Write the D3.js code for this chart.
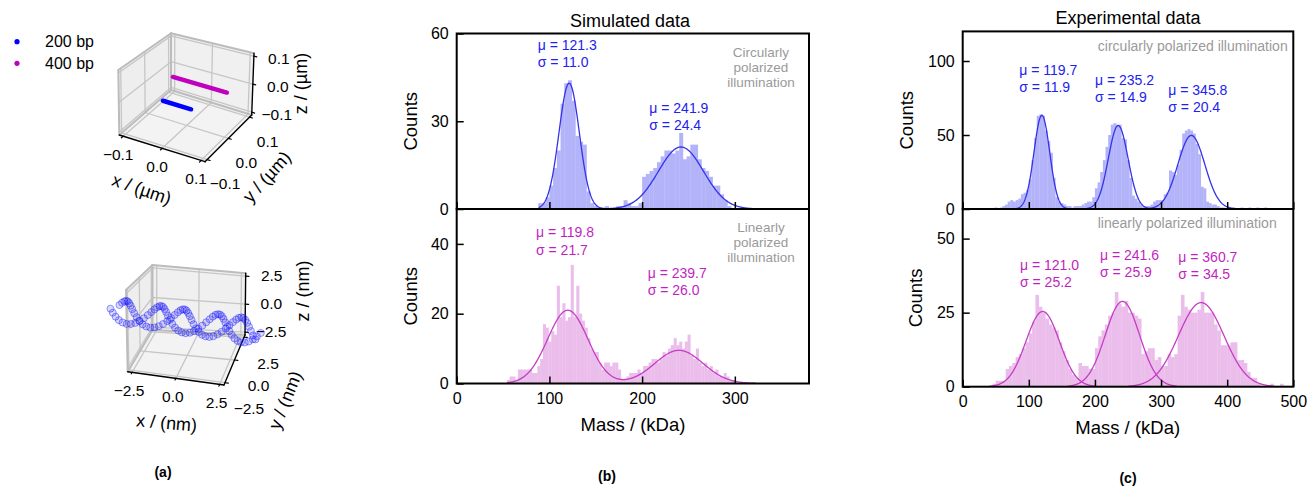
<!DOCTYPE html>
<html lang="en">
<head>
<meta charset="utf-8">
<title>DNA mass histograms</title>
<script src="https://cdn.jsdelivr.net/npm/d3@7"></script>
<style>
  body { margin: 0; background: #fff; }
  text { font-family: "Liberation Sans", Arial, sans-serif; }
</style>
</head>
<body>
<svg id="fig" width="1309" height="487"></svg>
<script>
// ---------- data: panel (a) ----------
const legendLabels = ["200 bp", "400 bp"];
const legendColors = ["#0000ff", "#bf00bf"];
// straight rods (µm), start / end
const rodX = [[-0.063, 0.011], [-0.037, 0.103]];
const rodY = [[0, 0], [0, 0]];
const rodZ = [[-0.048, -0.048], [0.048, 0.048]];
const umTicks = [-0.1, 0.0, 0.1];
// helix atoms (nm): two strands, main and half-step atoms
const helixX = [-4.2, -3.86, -3.52, -3.18, -2.84, -2.5, -2.16, -1.82, -1.48, -1.14, -0.8, -0.46, -0.12,
  0.22, 0.56, 0.9, 1.24, 1.58, 1.92, 2.26, 2.6, 2.94, 3.28, 3.62, 3.96];
const strand1Y = [1, .81, .31, -.31, -.81, -1, -.81, -.31, .31, .81, 1, .81, .31, -.31, -.81, -1, -.81, -.31, .31, .81, 1, .81, .31, -.31, -.81];
const strand1Z = [0, .41, .67, .67, .41, 0, -.41, -.67, -.67, -.41, 0, .41, .67, .67, .41, 0, -.41, -.67, -.67, -.41, 0, .41, .67, .67, .41];
const strand2Y = [-.81, -1, -.81, -.31, .31, .81, 1, .81, .31, -.31, -.81, -1, -.81, -.31, .31, .81, 1, .81, .31, -.31, -.81, -1, -.81, -.31, .31];
const strand2Z = [.41, 0, -.41, -.67, -.67, -.41, 0, .41, .67, .67, .41, 0, -.41, -.67, -.67, -.41, 0, .41, .67, .67, .41, 0, -.41, -.67, -.67];
const helixXh = [-4.03, -3.69, -3.35, -3.01, -2.67, -2.33, -1.99, -1.65, -1.31, -0.97, -0.63, -0.29, 0.05,
  0.39, 0.73, 1.07, 1.41, 1.75, 2.09, 2.43, 2.77, 3.11, 3.45, 3.79, 4.13];
const strand1hY = [.95, .59, 0, -.59, -.95, -.95, -.59, 0, .59, .95, .95, .59, 0, -.59, -.95, -.95, -.59, 0, .59, .95, .95, .59, 0, -.59, -.95];
const strand1hZ = [.22, .57, .7, .57, .22, -.22, -.57, -.7, -.57, -.22, .22, .57, .7, .57, .22, -.22, -.57, -.7, -.57, -.22, .22, .57, .7, .57, .22];
const strand2hY = [-.95, -.95, -.59, 0, .59, .95, .95, .59, 0, -.59, -.95, -.95, -.59, 0, .59, .95, .95, .59, 0, -.59, -.95, -.95, -.59, 0, .59];
const strand2hZ = [.22, -.22, -.57, -.7, -.57, -.22, .22, .57, .7, .57, .22, -.22, -.57, -.7, -.57, -.22, .22, .57, .7, .57, .22, -.22, -.57, -.7, -.57];
const nmTicks = [-2.5, 0.0, 2.5];

// ---------- data: panel (b) simulated ----------
const simUpperStart = 84, simUpperWidth = 4;
const simUpperCounts = [0,2,2,4,8,14,20,36,43,44, 37,25,23,22,6,2,1,0,0,1, 0,0,1,1,3,2,1,1,2,11,
  12,13,14,16,18,20,20,19,20,26, 17,18,22,22,17,14,13,11,8,8, 5,3,1,0];
const simUpperMu = [121.3, 241.9], simUpperSigma = [11.0, 24.4], simUpperAmp = [43, 21.2];

const simLowerStart = 54, simLowerWidth = 3;
const simLowerCounts = [1,2,2,1,4,4,4,4,4,3, 3,5,7,17,16,12,15,14,28,19, 23,18,19,34,19,28,20,18,16,13,
  10,9,9,6,4,6,6,5,6,6, 4,1,1,2,3,3,3,4,3,5, 5,6,7,7,6,7,9,8,10,11, 13,11,12,10,12,14,8,7,10,6,
  5,6,4,5,3,4,2,2,3,2, 1,1];
const simLowerMu = [119.8, 239.7], simLowerSigma = [21.7, 26.0], simLowerAmp = [21, 9.5];

// ---------- data: panel (c) experimental ----------
const expUpperStart = 40, expUpperWidth = 4;
const expUpperCounts = [0,0,1,0,1,2,3,5,6,5, 6,7,10,11,13,20,33,48,63,64, 63,53,46,38,21,8,5,4,3,2,
  2,1,2,2,2,3,4,5,5,8, 14,18,25,33,42,50,57,58,57,57, 48,47,33,21,9,7,5,3,2,2,
  2,3,5,6,6,6,10,11,26,25, 23,30,40,51,53,54,53,51,44,37, 15,14,5,4,3,3,2,1,1,0,
  1,0,1,0,0,1,0,0,1,0, 0,1,0,0,1];
const expUpperMu = [119.7, 235.2, 345.8], expUpperSigma = [11.9, 14.9, 20.4], expUpperAmp = [63.3, 56.4, 49.7];

const expLowerStart = 45, expLowerWidth = 5;
const expLowerCounts = [1,2,2,2,6,7,8,10,11,13, 15,18,22,31,27,25,23,21,20,19, 15,12,9,6,4,3,8,7,7,6,
  6,13,17,19,21,24,25,32,28,27, 29,25,25,24,23,11,12,13,13,9, 10,7,7,11,10,11,24,31,27,26,
  25,25,26,32,25,25,25,21,19,14, 14,14,15,15,9,9,8,5,3,3, 1,0,0,0,1,0,0,1];
const expLowerMu = [121.0, 241.6, 360.7], expLowerSigma = [25.2, 25.9, 34.5], expLowerAmp = [25.4, 28.8, 28.4];

// ---------- drawing ----------
const svg = d3.select("#fig");
const BLUE_TXT = "#2222ee", MAG_TXT = "#c21fc2";

// 3D box: trilinear map from data cube to the 8 screen corners
function makeProj(c, xd, yd, zd) {
  const u = d3.scaleLinear().domain(xd).range([0, 1]);
  const v = d3.scaleLinear().domain(yd).range([0, 1]);
  const w = d3.scaleLinear().domain(zd).range([0, 1]);
  const mix = (p, q, t) => [p[0] + (q[0] - p[0]) * t, p[1] + (q[1] - p[1]) * t];
  return (x, y, z) => {
    const a = u(x), b = v(y), t = w(z);
    const lo = mix(mix(c.A, c.B, a), mix(c.D, c.C, a), b);
    const hi = mix(mix(c.At, c.Bt, a), mix(c.Dt, c.Ct, a), b);
    return mix(lo, hi, t);
  };
}

function draw3d(P, dom, ticks, fmt, off, labels) {
  const g = svg.append("g");
  const [x0, x1] = dom.x, [y0, y1] = dom.y, [z0, z1] = dom.z;
  const poly = pts => "M" + pts.map(p => P(...p).join(",")).join("L") + "Z";
  const seg = (p, q, col, wdt) => {
    const a = P(...p), b = P(...q);
    g.append("line").attr("x1", a[0]).attr("y1", a[1]).attr("x2", b[0]).attr("y2", b[1])
      .attr("stroke", col).attr("stroke-width", wdt).attr("stroke-linecap", "round");
  };
  g.append("path").attr("d", poly([[x0,y0,z0],[x1,y0,z0],[x1,y1,z0],[x0,y1,z0]])).attr("fill", "#f3f3f3");
  g.append("path").attr("d", poly([[x0,y0,z0],[x0,y1,z0],[x0,y1,z1],[x0,y0,z1]])).attr("fill", "#eeeeee");
  g.append("path").attr("d", poly([[x0,y1,z0],[x1,y1,z0],[x1,y1,z1],[x0,y1,z1]])).attr("fill", "#f0f0f0");
  const gc = "#c6c6c6", gw = 1.3;
  ticks.x.forEach(t => { seg([t,y0,z0],[t,y1,z0],gc,gw); seg([t,y1,z0],[t,y1,z1],gc,gw); });
  ticks.y.forEach(t => { seg([x0,t,z0],[x1,t,z0],gc,gw); seg([x0,t,z0],[x0,t,z1],gc,gw); });
  ticks.z.forEach(t => { seg([x0,y0,t],[x0,y1,t],gc,gw); seg([x0,y1,t],[x1,y1,t],gc,gw); });
  const ec = "#bcbcbc", ew = 2;
  seg([x0,y0,z0],[x0,y0,z1],ec,ew); seg([x0,y0,z1],[x0,y1,z1],ec,ew);
  seg([x0,y1,z1],[x1,y1,z1],ec,ew); seg([x0,y1,z0],[x0,y1,z1],ec,ew);
  seg([x0,y0,z0],[x0,y1,z0],ec,ew); seg([x0,y1,z0],[x1,y1,z0],ec,ew);
  // black axes
  seg([x0,y0,z0],[x1,y0,z0],"#000",1.4);
  seg([x1,y0,z0],[x1,y1,z0],"#000",1.4);
  seg([x1,y1,z0],[x1,y1,z1],"#000",1.4);
  const dy = (y1 - y0) * 0.035, dx = (x1 - x0) * 0.035;
  ticks.x.forEach(t => seg([t,y0,z0],[t,y0 - dy,z0],"#000",1.2));
  ticks.y.forEach(t => seg([x1,t,z0],[x1 + dx,t,z0],"#000",1.2));
  ticks.z.forEach(t => seg([x1,y1,t],[x1 + dx,y1,t],"#000",1.2));
  const tl = (p, o, s) => {
    const q = P(...p);
    g.append("text").attr("x", q[0] + o[0]).attr("y", q[1] + o[1]).attr("text-anchor", "middle")
      .attr("dy", "0.35em").attr("font-size", 15.5).text(s);
  };
  ticks.x.forEach(t => tl([t,y0,z0], off.x, fmt(t)));
  ticks.y.forEach(t => tl([x1,t,z0], off.y, fmt(t)));
  ticks.z.forEach(t => tl([x1,y1,t], off.z, fmt(t)));
  labels.forEach(l => g.append("text").attr("text-anchor", "middle").attr("dy", "0.35em")
    .attr("font-size", 18).attr("transform", `translate(${l.at[0]},${l.at[1]}) rotate(${l.rot})`).text(l.text));
  return g;
}

const f1 = d3.format(".1f");

// --- top 3D box (µm)
const topBox = makeProj({A: [119.3, 135], B: [205, 161.7], C: [251.7, 115], D: [171, 90],
  At: [118.3, 70], Bt: [206, 98], Ct: [254, 53.3], Dt: [171, 33.3]}, [-0.11, 0.11], [-0.11, 0.11], [-0.11, 0.11]);
const gTop = draw3d(topBox, {x: [-0.11, 0.11], y: [-0.11, 0.11], z: [-0.11, 0.11]},
  {x: umTicks, y: umTicks, z: umTicks}, f1,
  {x: [-5, 18], y: [18, 24], z: [25, 2]},
  [{text: "x / (µm)", at: [141.7, 189], rot: 19},
   {text: "y / (µm)", at: [266.7, 176.7], rot: -48},
   {text: "z / (µm)", at: [301, 83.5], rot: -90}]);
rodX.forEach((xs, i) => {
  const a = topBox(xs[0], rodY[i][0], rodZ[i][0]), b = topBox(xs[1], rodY[i][1], rodZ[i][1]);
  gTop.append("line").attr("x1", a[0]).attr("y1", a[1]).attr("x2", b[0]).attr("y2", b[1])
    .attr("stroke", legendColors[i]).attr("stroke-width", 4.5).attr("stroke-linecap", "round");
});
legendLabels.forEach((s, i) => {
  svg.append("circle").attr("cx", 17).attr("cy", 41.7 + i * 21.6).attr("r", 2.6).attr("fill", legendColors[i]);
  svg.append("text").attr("x", 45).attr("y", 41.7 + i * 21.6).attr("dy", "0.35em").attr("font-size", 16).text(s);
});

// --- bottom 3D box (nm)
const botBox = makeProj({A: [127.7, 371.7], B: [224, 385], C: [245, 335], D: [152.5, 330],
  At: [126, 290], Bt: [225, 322], Ct: [245.7, 273.3], Dt: [152.5, 265]}, [-2.75, 2.75], [-2.75, 2.75], [-2.75, 2.75]);
const gBot = draw3d(botBox, {x: [-2.75, 2.75], y: [-2.75, 2.75], z: [-2.75, 2.75]},
  {x: nmTicks, y: nmTicks, z: nmTicks}, f1,
  {x: [-3, 18], y: [24, 26], z: [26, -1]},
  [{text: "x / (nm)", at: [166.7, 422.7], rot: 5},
   {text: "y / (nm)", at: [285, 400], rot: -68},
   {text: "z / (nm)", at: [302.5, 291], rot: -90}]);
[[helixX, strand1Y, strand1Z], [helixX, strand2Y, strand2Z],
 [helixXh, strand1hY, strand1hZ], [helixXh, strand2hY, strand2hZ]].forEach(([xs, ys, zs]) => {
  gBot.append("g").selectAll("circle").data(xs).join("circle")
    .attr("cx", (x, i) => botBox(x, ys[i], zs[i])[0])
    .attr("cy", (x, i) => botBox(x, ys[i], zs[i])[1])
    .attr("r", 3.5).attr("fill", "rgba(0,0,255,0.14)").attr("stroke", "rgba(30,30,255,0.45)").attr("stroke-width", 1);
});

// ---------- histograms ----------
function histPanel(cfg) {
  const g = svg.append("g");
  const x = d3.scaleLinear().domain(cfg.xDomain).range([cfg.left, cfg.right]);
  const y = d3.scaleLinear().domain(cfg.yDomain).range([cfg.bottom, cfg.top]);
  g.append("g").selectAll("rect").data(cfg.counts).join("rect")
    .attr("x", (c, i) => x(cfg.start + i * cfg.width))
    .attr("width", (c, i) => x(cfg.start + (i + 1) * cfg.width) - x(cfg.start + i * cfg.width) + 0.3)
    .attr("y", c => y(c)).attr("height", c => y(0) - y(c))
    .attr("fill", cfg.barColor);
  const gauss = (m, k) => cfg.amp[k] * Math.exp(-0.5 * Math.pow((m - cfg.mu[k]) / cfg.sigma[k], 2));
  const line = d3.line().x(d => x(d[0])).y(d => y(d[1]));
  if (cfg.summed) {
    const lo = cfg.mu[0] - 3 * cfg.sigma[0], hi = cfg.mu[1] + 3.2 * cfg.sigma[1];
    const pts = d3.range(lo, hi, 0.5).map(m => [m, cfg.mu.reduce((s, _, k) => s + gauss(m, k), 0)]);
    g.append("path").attr("d", line(pts)).attr("fill", "none").attr("stroke", cfg.lineColor).attr("stroke-width", 1.3);
  } else {
    cfg.mu.forEach((mu, k) => {
      const pts = d3.range(mu - 3.2 * cfg.sigma[k], mu + 3.2 * cfg.sigma[k], 0.5).map(m => [m, gauss(m, k)]);
      g.append("path").attr("d", line(pts)).attr("fill", "none").attr("stroke", cfg.lineColor).attr("stroke-width", 1.3);
    });
  }
  const ya = g.append("g").attr("transform", `translate(${cfg.left},0)`)
    .call(d3.axisLeft(y).tickValues(cfg.yTicks).tickSizeInner(-7).tickSizeOuter(0).tickPadding(8));
  const xa = g.append("g").attr("transform", `translate(0,${cfg.bottom})`)
    .call(d3.axisBottom(x).tickValues(cfg.xTicks).tickSizeInner(-7).tickSizeOuter(0).tickPadding(9)
      .tickFormat(cfg.showX ? d3.format("d") : ""));
  [ya, xa].forEach(a => {
    a.select(".domain").remove();
    a.selectAll("line").attr("stroke", "#000").attr("stroke-width", 1.5);
    a.selectAll("text").attr("font-size", 16).attr("fill", "#000")
      .attr("font-family", '"Liberation Sans", Arial, sans-serif');
  });
  g.append("rect").attr("x", cfg.left).attr("y", cfg.top).attr("width", cfg.right - cfg.left)
    .attr("height", cfg.bottom - cfg.top).attr("fill", "none").attr("stroke", "#000").attr("stroke-width", 2);
  g.append("text").attr("text-anchor", "middle").attr("dy", "0.35em").attr("font-size", 18.5)
    .attr("transform", `translate(${cfg.ylabelX},${(cfg.top + cfg.bottom) / 2}) rotate(-90)`).text("Counts");
  cfg.notes.forEach((p, k) => {
    g.append("text").attr("x", p[0]).attr("y", p[1]).attr("dy", "0.35em").attr("font-size", 14)
      .attr("fill", cfg.textColor).text("μ = " + f1(cfg.mu[k]));
    g.append("text").attr("x", p[0]).attr("y", p[1] + 17.5).attr("dy", "0.35em").attr("font-size", 14)
      .attr("fill", cfg.textColor).text("σ = " + f1(cfg.sigma[k]));
  });
  const cap = g.append("text").attr("x", cfg.caption.x).attr("y", cfg.caption.y).attr("font-size", cfg.caption.size)
    .attr("fill", "#9a9a9a").attr("text-anchor", cfg.caption.anchor);
  cfg.caption.lines.forEach((s, i) => cap.append("tspan").attr("x", cfg.caption.x)
    .attr("dy", i === 0 ? "0.35em" : cfg.caption.gap).text(s));
  return {g, x};
}

const simBlue = "#b3b3fa", simMag = "#ebbdeb";

histPanel({left: 456.7, right: 809, top: 33.5, bottom: 209, xDomain: [0, 380], yDomain: [0, 60],
  xTicks: [0, 100, 200, 300], yTicks: [0, 30, 60], showX: false,
  counts: simUpperCounts, start: simUpperStart, width: simUpperWidth,
  mu: simUpperMu, sigma: simUpperSigma, amp: simUpperAmp, summed: true,
  barColor: simBlue, lineColor: "#3434e6", textColor: BLUE_TXT, ylabelX: 410.7,
  notes: [[537.7, 45], [649.3, 108]],
  caption: {x: 761, y: 52, size: 13.5, anchor: "middle", gap: 15, lines: ["Circularly", "polarized", "illumination"]}});

histPanel({left: 456.7, right: 809, top: 209, bottom: 383.5, xDomain: [0, 380], yDomain: [0, 50],
  xTicks: [0, 100, 200, 300], yTicks: [0, 20, 40], showX: true,
  counts: simLowerCounts, start: simLowerStart, width: simLowerWidth,
  mu: simLowerMu, sigma: simLowerSigma, amp: simLowerAmp, summed: true,
  barColor: simMag, lineColor: "#c43ec4", textColor: MAG_TXT, ylabelX: 410.7,
  notes: [[536, 232.3], [647.7, 272.7]],
  caption: {x: 761, y: 227, size: 13.5, anchor: "middle", gap: 15, lines: ["Linearly", "polarized", "illumination"]}});

histPanel({left: 962.7, right: 1293.3, top: 31.4, bottom: 209, xDomain: [0, 500], yDomain: [0, 120],
  xTicks: [0, 100, 200, 300, 400, 500], yTicks: [0, 50, 100], showX: false,
  counts: expUpperCounts, start: expUpperStart, width: expUpperWidth,
  mu: expUpperMu, sigma: expUpperSigma, amp: expUpperAmp, summed: false,
  barColor: simBlue, lineColor: "#3434e6", textColor: BLUE_TXT, ylabelX: 907,
  notes: [[1019.3, 70], [1095, 80], [1168.3, 90]],
  caption: {x: 1287.7, y: 45.7, size: 14, anchor: "end", gap: 15, lines: ["circularly polarized illumination"]}});

histPanel({left: 962.7, right: 1293.3, top: 209, bottom: 386.7, xDomain: [0, 500], yDomain: [0, 60],
  xTicks: [0, 100, 200, 300, 400, 500], yTicks: [0, 25, 50], showX: true,
  counts: expLowerCounts, start: expLowerStart, width: expLowerWidth,
  mu: expLowerMu, sigma: expLowerSigma, amp: expLowerAmp, summed: false,
  barColor: simMag, lineColor: "#c43ec4", textColor: MAG_TXT, ylabelX: 916,
  notes: [[1020, 265], [1100, 255], [1178.3, 257]],
  caption: {x: 1276.7, y: 222.7, size: 14, anchor: "end", gap: 15, lines: ["linearly polarized illumination"]}});

// titles and axis labels
const addText = (s, x, y, size, weight) => svg.append("text").attr("x", x).attr("y", y).attr("dy", "0.35em")
  .attr("text-anchor", "middle").attr("font-size", size).attr("font-weight", weight || "normal").text(s);
addText("Simulated data", 630, 21, 18);
addText("Experimental data", 1128, 18, 18);
addText("Mass / (kDa)", 633, 425, 18.5);
addText("Mass / (kDa)", 1127.7, 428, 18.5);
addText("(a)", 163, 472, 14, "bold");
addText("(b)", 607, 476, 14, "bold");
addText("(c)", 1128, 478.5, 14, "bold");
</script>
</body>
</html>
